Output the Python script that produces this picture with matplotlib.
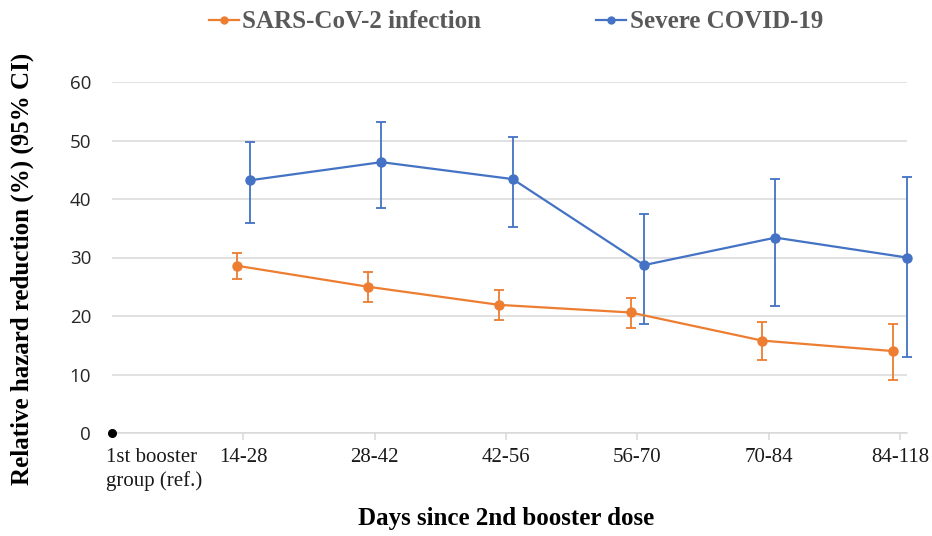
import matplotlib
matplotlib.use("Agg")
import matplotlib.pyplot as plt
import matplotlib.transforms as mtransforms
from matplotlib.lines import Line2D
import numpy as np

categories = ["1st booster\ngroup (ref.)", "14-28", "28-42", "42-56", "56-70", "70-84", "84-118"]
ref_value = 0

inf_vals = [28.6, 25.0, 21.9, 20.6, 15.8, 14.0]
inf_low = [26.4, 22.4, 19.4, 17.9, 12.4, 9.1]
inf_high = [30.8, 27.5, 24.5, 23.1, 19.0, 18.6]

sev_vals = [43.2, 46.3, 43.4, 28.7, 33.4, 30.0]
sev_low = [35.9, 38.4, 35.2, 18.7, 21.7, 13.0]
sev_high = [49.7, 53.2, 50.6, 37.5, 43.4, 43.7]

series_names = ["SARS-CoV-2 infection", "Severe COVID-19"]

ORANGE = "#ED7D31"
BLUE = "#4472C4"
GRID = "#D9D9D9"

fig = plt.figure(figsize=(9.32, 5.36), dpi=100)
ax = fig.add_axes([112/932, 103/536, 794.7/932, 351/536])

x = np.arange(1, len(categories))
off = 0.051

inf_err = [np.array(inf_vals) - np.array(inf_low), np.array(inf_high) - np.array(inf_vals)]
sev_err = [np.array(sev_vals) - np.array(sev_low), np.array(sev_high) - np.array(sev_vals)]

ax.errorbar(x - off, inf_vals, yerr=inf_err, color=ORANGE, ecolor=ORANGE, lw=1.6,
            elinewidth=1.3, capsize=3.5, capthick=1.3, marker='o', markersize=6.5,
            zorder=3, clip_on=False)
ax.errorbar(x + off, sev_vals, yerr=sev_err, color=BLUE, ecolor=BLUE, lw=1.6,
            elinewidth=1.3, capsize=3.5, capthick=1.3, marker='o', markersize=6.5,
            zorder=3, clip_on=False)
ax.plot([0], [ref_value], 'o', color='black', markersize=5.5, zorder=4, clip_on=False)

ax.set_xlim(0, 6.051)
ax.set_ylim(0, 60)
ax.set_yticks(np.arange(0, 61, 10))
ax.yaxis.grid(True, color=GRID, lw=1.1)
ax.set_axisbelow(True)
for s in ['top', 'right', 'left']:
    ax.spines[s].set_visible(False)
ax.spines['bottom'].set_color(GRID)
ax.spines['bottom'].set_linewidth(1.1)
ax.tick_params(axis='y', length=0, pad=15, labelsize=13.5, labelcolor='#262626')
for lab in ax.get_yticklabels():
    lab.set_fontfamily('Open Sans')

ax.set_xticks(np.arange(len(categories)))
ax.set_xticklabels(categories, fontfamily='Liberation Serif', fontsize=15, color='#1a1a1a')
ax.tick_params(axis='x', length=5, color=GRID, width=1.1, pad=6)
ax.xaxis.get_major_ticks()[0].tick1line.set_visible(False)
first = ax.get_xticklabels()[0]
first.set_ha('left')
first.set_linespacing(1.25)
first.set_transform(first.get_transform() + mtransforms.ScaledTranslation(-6/100, 0, fig.dpi_scale_trans))

fig.text(22/932, 1 - 268.5/536, "Relative hazard reduction (%) (95% CI)", rotation=90,
         ha='center', va='center', fontfamily='Liberation Serif', fontweight='bold', fontsize=18)
fig.text(506/932, 1 - 519/536, "Days since 2nd booster dose", ha='center', va='center',
         fontfamily='Liberation Serif', fontweight='bold', fontsize=18)

handles = [Line2D([], [], color=ORANGE, lw=1.6, marker='o', markersize=5),
           Line2D([], [], color=BLUE, lw=1.6, marker='o', markersize=5)]
leg = fig.legend(handles, series_names, loc='center', bbox_to_anchor=(516/932, 1 - 22/536),
                 ncol=2, frameon=False,
                 prop={'family': 'Liberation Serif', 'weight': 'bold', 'size': 18},
                 handlelength=1.2, handletextpad=0.15, columnspacing=4.6, labelcolor='#595959')

fig.savefig("out.png", dpi=100)
